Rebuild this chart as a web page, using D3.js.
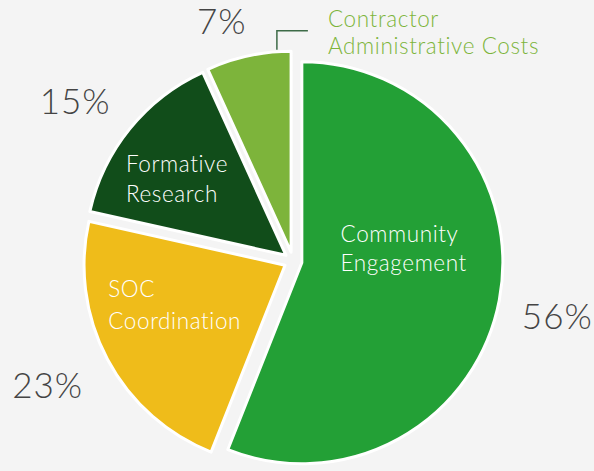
<!DOCTYPE html>
<html>
<head>
<meta charset="utf-8">
<script src="https://cdn.jsdelivr.net/npm/d3@7"></script>
<style>
  html, body { margin: 0; padding: 0; background: #f4f4f4; }
  svg { display: block; font-family: Lato, "Noto Sans", sans-serif; }
</style>
</head>
<body>
<svg id="chart" width="594" height="471"></svg>
<script>
// budget split, clockwise from 12 o'clock (slice sizes)
const categories = ["Community Engagement", "SOC Coordination", "Formative Research", "Contractor Administrative Costs"];
const labelLines = [["Community", "Engagement"], ["SOC", "Coordination"], ["Formative", "Research"], ["Contractor", "Administrative Costs"]];
const shares = [56, 22.5, 14.7, 6.8];
const pctLabels = ["56%", "23%", "15%", "7%"];
const colors = ["#23a036", "#efbc1a", "#114d1a", "#7db43b"];

const width = 594, height = 471;
const cx = 293, cy = 261, r = 201, explode = 9;

const svg = d3.select("#chart");
svg.append("rect").attr("width", width).attr("height", height).attr("fill", "#f4f4f4");

const pie = d3.pie().sort(null).value(d => d)(shares);
const arc = d3.arc().innerRadius(0).outerRadius(r);
const mid = d => (d.startAngle + d.endAngle) / 2;
const offset = d => [Math.sin(mid(d)) * explode, -Math.cos(mid(d)) * explode];

const g = svg.append("g").attr("transform", `translate(${cx},${cy})`);

g.selectAll("path.slice")
  .data(pie)
  .enter()
  .append("path")
  .attr("class", "slice")
  .attr("transform", d => `translate(${offset(d)})`)
  .attr("d", arc)
  .attr("fill", (d, i) => colors[i])
  .attr("stroke", "#fff")
  .attr("stroke-width", 3)
  .attr("stroke-linejoin", "round");

// percentages outside the pie
const pctRadius = [270, 275, 270, 250];
const pctTurn = [0.017, 0.018, -0.05, -0.075];
g.selectAll("text.pct")
  .data(pie)
  .enter()
  .append("text")
  .attr("class", "pct")
  .attr("x", (d, i) => Math.sin(mid(d) + pctTurn[i]) * pctRadius[i])
  .attr("y", (d, i) => -Math.cos(mid(d) + pctTurn[i]) * pctRadius[i])
  .attr("text-anchor", "middle")
  .attr("dy", "0.36em")
  .attr("font-size", 35)
  .attr("font-weight", 300)
  .attr("letter-spacing", 1)
  .attr("fill", "#444")
  .text((d, i) => pctLabels[i]);

// names inside the first three slices
const nudge = [[-60, -40], [-88, -15], [-82, -20]];
const lineGap = [29, 32, 30];
pie.slice(0, 3).forEach((d, i) => {
  const [ox, oy] = offset(d);
  const c = arc.centroid(d);
  const x0 = c[0] + ox + nudge[i][0];
  const t = g.append("text")
    .attr("x", x0)
    .attr("y", c[1] + oy + nudge[i][1])
    .attr("font-size", 22.5)
    .attr("font-weight", 300)
    .attr("letter-spacing", 0.6)
    .attr("fill", "#fff");
  labelLines[i].forEach((line, k) => {
    t.append("tspan")
      .attr("x", x0)
      .attr("dy", k === 0 ? 0 : lineGap[i])
      .text(line);
  });
});

// small slice: name outside with a leader
const small = pie[3];
const so = offset(small);
const a = small.endAngle - 0.07;
const lx = Math.sin(a) * (r + 2) + so[0], ly = -Math.cos(a) * (r + 2) + so[1];
g.append("path")
  .attr("d", `M${lx},${ly}V${ly - 19}H${lx + 31}`)
  .attr("fill", "none")
  .attr("stroke", "#3d6b47")
  .attr("stroke-width", 1.5);

const st = g.append("text")
  .attr("x", 35)
  .attr("y", -234)
  .attr("font-size", 22.5)
  .attr("font-weight", 300)
  .attr("letter-spacing", 0.6)
  .attr("fill", colors[3]);
labelLines[3].forEach((line, k) => {
  st.append("tspan").attr("x", 35).attr("dy", k === 0 ? 0 : 27).text(line);
});
</script>
</body>
</html>
